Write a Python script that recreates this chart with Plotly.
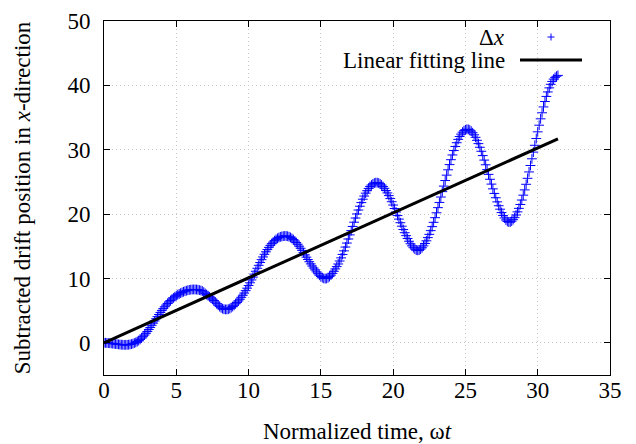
import plotly.graph_objects as go

delta_x = [
    0.0, 0.0, -0.02, -0.04, -0.06, -0.09, -0.12, -0.15, -0.18, -0.21,
    -0.24, -0.27, -0.29, -0.31, -0.32, -0.32, -0.31, -0.29, -0.25, -0.2,
    -0.13, -0.04, 0.07, 0.2, 0.35, 0.53, 0.73, 0.95, 1.2, 1.47,
    1.76, 2.07, 2.39, 2.72, 3.06, 3.4, 3.74, 4.07, 4.4, 4.72,
    5.03, 5.32, 5.6, 5.87, 6.12, 6.36, 6.58, 6.79, 6.98, 7.16,
    7.32, 7.47, 7.6, 7.72, 7.83, 7.93, 8.02, 8.1, 8.17, 8.22,
    8.26, 8.28, 8.29,
    8.29, 8.28, 8.25, 8.19, 8.13, 8.04, 7.88, 7.68, 7.49, 7.31,
    7.14, 6.97, 6.79, 6.57, 6.33, 6.08, 5.84, 5.62, 5.44, 5.31,
    5.22, 5.19, 5.19, 5.22, 5.33, 5.47, 5.64, 5.83, 6.06, 6.27,
    6.51, 6.77, 7.07, 7.39, 7.73, 8.10, 8.49, 8.90, 9.33, 9.77,
    10.21, 10.67, 11.12, 11.58, 12.04, 12.48, 12.92, 13.34, 13.75, 14.14,
    14.49, 14.83, 15.14, 15.41, 15.65, 15.88, 16.07, 16.23, 16.36, 16.46,
    16.53, 16.57, 16.6,
    16.59, 16.56, 16.48, 16.37, 16.22, 16.04, 15.82, 15.58, 15.31, 15.01,
    14.69, 14.36, 14.02, 13.66, 13.31, 12.95, 12.60, 12.26, 11.93, 11.62,
    11.33, 11.02, 10.74, 10.50, 10.29, 10.13, 10.01, 9.98, 10.00, 10.12,
    10.29, 10.52, 10.79, 11.11, 11.48, 11.84, 12.25, 12.71, 13.20, 13.73,
    14.29, 14.88, 15.50, 16.13, 16.77, 17.43, 18.08, 18.74, 19.39, 20.02,
    20.63, 21.22, 21.79, 22.31, 22.80, 23.25, 23.64, 23.99, 24.29, 24.52,
    24.69, 24.82, 24.88,
    24.88, 24.82, 24.70, 24.52, 24.28, 24.01, 23.67, 23.29, 22.87, 22.41,
    21.92, 21.41, 20.87, 20.32, 19.77, 19.22, 18.66, 18.12, 17.60, 17.11,
    16.65, 16.21, 15.78, 15.39, 15.06, 14.78, 14.56, 14.41, 14.37, 14.40,
    14.55, 14.77, 15.06, 15.43, 15.85, 16.35, 16.85, 17.43, 18.05, 18.72,
    19.44, 20.20, 21.00, 21.81, 22.65, 23.49, 24.35, 25.21, 26.05, 26.88,
    27.69, 28.45, 29.19, 29.87, 30.51, 31.09, 31.61, 32.06, 32.43, 32.73,
    32.96, 33.10, 33.17,
    33.16, 33.06, 32.89, 32.64, 32.32, 31.93, 31.46, 30.95, 30.38, 29.76,
    29.09, 28.39, 27.66, 26.91, 26.17, 25.41, 24.66, 23.92, 23.21, 22.54,
    21.90, 21.30, 20.76, 20.24, 19.79, 19.40, 19.08, 18.86, 18.77, 18.77,
    18.91, 19.13, 19.45, 19.86, 20.35, 20.89, 21.49, 22.18, 22.94, 23.76,
    24.63, 25.56, 26.55, 27.55, 28.59, 29.63, 30.69, 31.74, 32.78, 33.81,
    34.80, 35.74, 36.65, 37.49, 38.28, 38.98, 39.61, 40.16, 40.61, 40.97,
    41.24, 41.42, 41.55,
]
time_step = 0.1
omega_t = [round(time_step * i, 1) for i in range(len(delta_x))]

fit_t = [0.0, 31.4]
fit_y = [0.0, 31.7]

x_ticks = [0, 5, 10, 15, 20, 25, 30, 35]
y_ticks = [0, 10, 20, 30, 40, 50]

FONT = "Liberation Serif"
FS = 23

fig = go.Figure()
fig.add_trace(go.Scatter(
    x=omega_t, y=delta_x, mode="markers", name="Δx",
    marker=dict(symbol="cross-thin", size=7, color="#0000ff",
                line=dict(width=1, color="#0000ff")),
    showlegend=False,
))
fig.add_trace(go.Scatter(
    x=fit_t, y=fit_y, mode="lines", name="Linear fitting line",
    line=dict(color="black", width=3), showlegend=False,
))

axis_common = dict(
    showline=True, linecolor="black", linewidth=1, mirror="ticks",
    ticks="inside", ticklen=6, tickcolor="black", tickwidth=1,
    showgrid=True, gridcolor="#c8c8c8", griddash="1px,3px", gridwidth=1,
    zeroline=False, tickfont=dict(family=FONT, size=FS, color="black"),
)
fig.update_xaxes(range=[0, 35], tickvals=x_ticks, ticklabelstandoff=-6,
                 title=dict(text="Normalized time, ω<i>t</i>",
                            font=dict(family=FONT, size=FS, color="black"),
                            standoff=24),
                 **axis_common)
fig.update_yaxes(range=[-5, 50], tickvals=y_ticks, ticklabelstandoff=8,
                 title=dict(text="Subtracted drift position in <i>x</i>-direction",
                            font=dict(family=FONT, size=FS, color="black"),
                            standoff=30),
                 **axis_common)

# gnuplot-style key (text right-aligned, sample on the right)
fig.add_annotation(xref="paper", yref="paper", x=(507 - 104) / 506, y=(375 - 38) / 354,
                   text="Δ<i>x</i>", showarrow=False, xanchor="right", yanchor="middle",
                   font=dict(family=FONT, size=FS, color="black"))
fig.add_annotation(xref="paper", yref="paper", x=(507 - 104) / 506, y=(375 - 61) / 354,
                   text="Linear fitting line", showarrow=False, xanchor="right", yanchor="middle",
                   font=dict(family=FONT, size=FS, color="black"))
px = (551 - 104) / 506
py = (375 - 37) / 354
fig.add_shape(type="line", xref="paper", yref="paper",
              x0=px - 3.5 / 506, x1=px + 3.5 / 506, y0=py, y1=py,
              line=dict(color="#0000ff", width=1))
fig.add_shape(type="line", xref="paper", yref="paper",
              x0=px, x1=px, y0=py - 3.5 / 354, y1=py + 3.5 / 354,
              line=dict(color="#0000ff", width=1))
fig.add_shape(type="line", xref="paper", yref="paper",
              x0=(520 - 104) / 506, x1=(582 - 104) / 506,
              y0=(375 - 60) / 354, y1=(375 - 60) / 354,
              line=dict(color="black", width=3))

fig.update_layout(
    width=636, height=444,
    margin=dict(l=104, r=26, t=21, b=69, autoexpand=False),
    paper_bgcolor="white", plot_bgcolor="white",
    font=dict(family=FONT, size=FS, color="black"),
)

fig.write_html("out.html", config={"displayModeBar": False})

# remove the browser's default page margin so the figure sits at the window origin
with open("out.html", "r", encoding="utf-8") as f:
    html = f.read()
html = html.replace("<head>", "<head><style>html,body{margin:0;padding:0;overflow:hidden;}</style>", 1)
with open("out.html", "w", encoding="utf-8") as f:
    f.write(html)
